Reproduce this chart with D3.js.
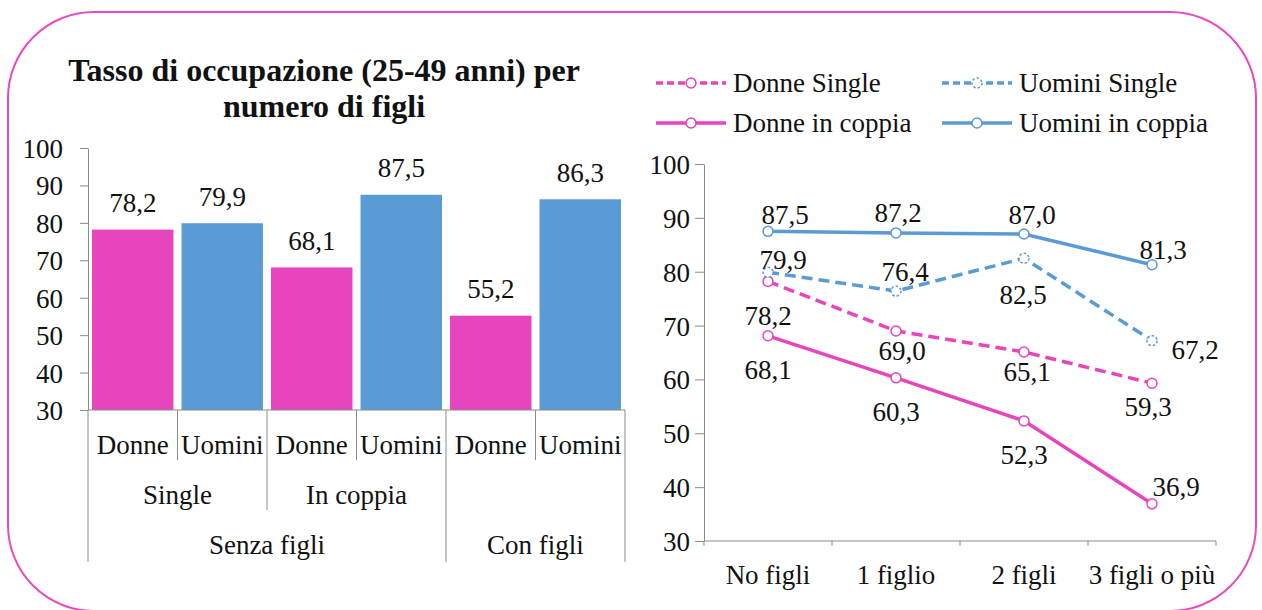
<!DOCTYPE html>
<html>
<head>
<meta charset="utf-8">
<script src="https://cdn.jsdelivr.net/npm/d3@7"></script>
<style>
  body { margin: 0; background: #fff; }
  text { font-family: "Liberation Serif", "DejaVu Serif", serif; fill: #111; font-size: 27px; }
  .axis path, .axis line { stroke: #8c8c8c; }
  .axis text { font-size: 27px; fill: #111; font-family: "Liberation Serif", serif; }
</style>
</head>
<body>
<div id="canvas"></div>
<script>
// DATA
const barLabels = ["Donne", "Uomini", "Donne", "Uomini", "Donne", "Uomini"];
const barGroup2 = ["Single", "Single", "In coppia", "In coppia", "", ""];
const barGroup3 = ["Senza figli", "Senza figli", "Senza figli", "Senza figli", "Con figli", "Con figli"];
const barValues = [78.2, 79.9, 68.1, 87.5, 55.2, 86.3];
const yTicks = [30, 40, 50, 60, 70, 80, 90, 100];

const lineCategories = ["No figli", "1 figlio", "2 figli", "3 figli o più"];
const seriesNames = ["Donne Single", "Uomini Single", "Donne in coppia", "Uomini in coppia"];
const donneSingle = [78.2, 69.0, 65.1, 59.3];
const uominiSingle = [79.9, 76.4, 82.5, 67.2];
const donneCoppia = [68.1, 60.3, 52.3, 36.9];
const uominiCoppia = [87.5, 87.2, 87.0, 81.3];

const title = ["Tasso di occupazione (25-49 anni) per", "numero di figli"];

// STYLE
const pink = "#e645bd";
const blue = "#5b9bd5";
const width = 1262;
const height = 610;

const series = [
  { name: seriesNames[0], values: donneSingle, color: pink, dash: "11,6", markDash: null },
  { name: seriesNames[1], values: uominiSingle, color: blue, dash: "11,6", markDash: "2.5,2" },
  { name: seriesNames[2], values: donneCoppia, color: pink, dash: null, markDash: null },
  { name: seriesNames[3], values: uominiCoppia, color: blue, dash: null, markDash: null }
];

// label offsets from the point (dx, dy), as Excel placed them
const labelOffsets = [
  [[0, 34], [6, 20], [3, 20], [-4, 23]],
  [[15, -13], [9, -20], [-1, 36], [43, 9]],
  [[0, 34], [0, 34], [0, 34], [24, -17]],
  [[17, -17], [2, -20], [8, -19], [11, -15]]
];

const fmt = (v) => v.toFixed(1).replace(".", ",");

// CANVAS
const svg = d3.select("#canvas").append("svg")
  .attr("width", width)
  .attr("height", height);

svg.append("rect")
  .attr("x", 8).attr("y", 12)
  .attr("width", 1248).attr("height", 599)
  .attr("rx", 86).attr("ry", 86)
  .attr("fill", "#fff")
  .attr("stroke", "#e84bbf")
  .attr("stroke-width", 2);

// TITLE
svg.append("g").selectAll("text")
  .data(title)
  .join("text")
  .attr("x", 324)
  .attr("y", (d, i) => 70 + i * 36)
  .attr("dy", "0.35em")
  .attr("text-anchor", "middle")
  .style("font-size", "32px")
  .style("font-weight", "bold")
  .text(d => d);

// BAR CHART
const bx = d3.scaleBand()
  .domain(d3.range(barValues.length))
  .range([88, 625])
  .paddingInner(0.09)
  .paddingOuter(0.045);

const by = d3.scaleLinear().domain([30, 100]).range([410, 148]);

const barAxis = svg.append("g")
  .attr("class", "axis")
  .attr("transform", "translate(88,0)")
  .call(d3.axisLeft(by).tickValues(yTicks).tickSize(8).tickSizeOuter(0).tickPadding(17));
barAxis.selectAll("text").attr("dy", "0.35em");

svg.append("g").selectAll("rect")
  .data(barValues)
  .join("rect")
  .attr("x", (d, i) => bx(i))
  .attr("y", d => by(d))
  .attr("width", bx.bandwidth())
  .attr("height", d => by(30) - by(d))
  .attr("fill", (d, i) => barLabels[i] === "Donne" ? pink : blue);

svg.append("g").selectAll("text")
  .data(barValues)
  .join("text")
  .attr("x", (d, i) => bx(i) + bx.bandwidth() / 2)
  .attr("y", d => by(d) - 27)
  .attr("dy", "0.35em")
  .attr("text-anchor", "middle")
  .text(fmt);

// category axis with three levels
const step = bx.step();
const x0 = 88;
const cat = svg.append("g").attr("class", "axis");

cat.append("line")
  .attr("x1", x0).attr("x2", 625)
  .attr("y1", 410).attr("y2", 410);

const runs = (arr) => {
  const out = [];
  arr.forEach((d, i) => {
    if (i > 0 && arr[i - 1] === d) out[out.length - 1].end = i + 1;
    else out.push({ label: d, start: i, end: i + 1 });
  });
  return out;
};

const runs2 = runs(barGroup2);
const runs3 = runs(barGroup3);
const isEdge = (r, i) => r.some(g => g.start === i || g.end === i);

const boundaries = d3.range(barValues.length + 1).map(i => {
  if (i === 0 || i === barValues.length || isEdge(runs3, i)) return { i, y2: 562 };
  if (isEdge(runs2, i)) return { i, y2: 510 };
  return { i, y2: 460 };
});

cat.selectAll(".sep")
  .data(boundaries)
  .join("line")
  .attr("class", "sep")
  .attr("x1", d => x0 + d.i * step)
  .attr("x2", d => x0 + d.i * step)
  .attr("y1", 410)
  .attr("y2", d => d.y2);

cat.selectAll(".l1")
  .data(barLabels)
  .join("text")
  .attr("class", "l1")
  .attr("x", (d, i) => x0 + (i + 0.5) * step)
  .attr("y", 445)
  .attr("dy", "0.35em")
  .attr("text-anchor", "middle")
  .text(d => d);

cat.selectAll(".l2")
  .data(runs2.filter(r => r.label))
  .join("text")
  .attr("class", "l2")
  .attr("x", d => x0 + (d.start + d.end) / 2 * step)
  .attr("y", 495)
  .attr("dy", "0.35em")
  .attr("text-anchor", "middle")
  .text(d => d.label);

cat.selectAll(".l3")
  .data(runs3)
  .join("text")
  .attr("class", "l3")
  .attr("x", d => x0 + (d.start + d.end) / 2 * step)
  .attr("y", 545)
  .attr("dy", "0.35em")
  .attr("text-anchor", "middle")
  .text(d => d.label);

// LINE CHART
const lx = d3.scaleBand().domain(lineCategories).range([704, 1216]);
const ly = d3.scaleLinear().domain([30, 100]).range([541, 164]);
const cx = (c) => lx(c) + lx.bandwidth() / 2;

const lineAxis = svg.append("g")
  .attr("class", "axis")
  .attr("transform", "translate(704,0)")
  .call(d3.axisLeft(ly).tickValues(yTicks).tickSize(9).tickSizeOuter(0).tickPadding(5));
lineAxis.selectAll("text").attr("dy", "0.35em");

const xAx = svg.append("g").attr("class", "axis");
xAx.append("line")
  .attr("x1", 704).attr("x2", 1216)
  .attr("y1", 541).attr("y2", 541);
xAx.selectAll(".tk")
  .data(d3.range(lineCategories.length + 1))
  .join("line")
  .attr("class", "tk")
  .attr("x1", i => 704 + i * lx.step())
  .attr("x2", i => 704 + i * lx.step())
  .attr("y1", 541).attr("y2", 546);
xAx.selectAll("text")
  .data(lineCategories)
  .join("text")
  .attr("x", d => cx(d))
  .attr("y", 575)
  .attr("dy", "0.35em")
  .attr("text-anchor", "middle")
  .text(d => d);

const line = d3.line()
  .x((d, i) => cx(lineCategories[i]))
  .y(d => ly(d));

const drawOrder = [2, 0, 1, 3];
drawOrder.forEach(k => {
  const s = series[k];
  const g = svg.append("g");
  g.append("path")
    .datum(s.values)
    .attr("d", line)
    .attr("fill", "none")
    .attr("stroke", s.color)
    .attr("stroke-width", 3.5)
    .attr("stroke-dasharray", s.dash);
  g.selectAll("circle")
    .data(s.values)
    .join("circle")
    .attr("cx", (d, i) => cx(lineCategories[i]))
    .attr("cy", d => ly(d))
    .attr("r", 5)
    .attr("fill", "#fff")
    .attr("stroke", s.color)
    .attr("stroke-width", 1.5)
    .attr("stroke-dasharray", s.markDash);
});

series.forEach((s, k) => {
  svg.append("g").selectAll("text")
    .data(s.values)
    .join("text")
    .attr("x", (d, i) => cx(lineCategories[i]) + labelOffsets[k][i][0])
    .attr("y", (d, i) => ly(d) + labelOffsets[k][i][1])
    .attr("dy", "0.35em")
    .attr("text-anchor", "middle")
    .text(fmt);
});

// LEGEND
const legend = svg.append("g");
const legendPos = [[656, 83], [942, 83], [656, 123], [942, 123]];
series.forEach((s, k) => {
  const [lx0, ly0] = legendPos[k];
  const item = legend.append("g").attr("transform", `translate(${lx0},${ly0})`);
  item.append("line")
    .attr("x1", 0).attr("x2", 70)
    .attr("y1", 0).attr("y2", 0)
    .attr("stroke", s.color)
    .attr("stroke-width", 3.5)
    .attr("stroke-dasharray", s.dash ? "7,4" : null);
  item.append("circle")
    .attr("cx", 35).attr("cy", 0).attr("r", 5)
    .attr("fill", "#fff")
    .attr("stroke", s.color)
    .attr("stroke-width", 1.5)
    .attr("stroke-dasharray", s.markDash);
  item.append("text")
    .attr("x", 77)
    .attr("dy", "0.35em")
    .text(s.name);
});
</script>
</body>
</html>
